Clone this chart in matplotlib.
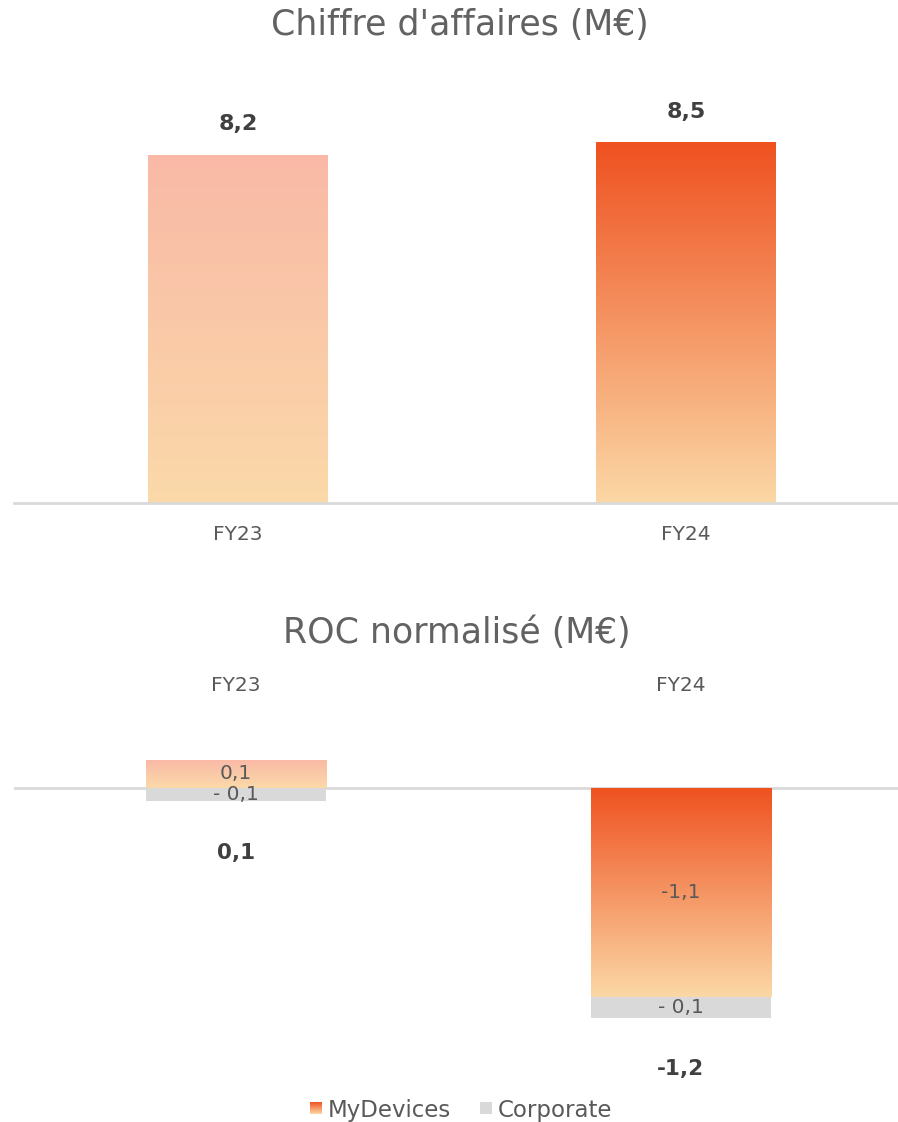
import numpy as np
import matplotlib
matplotlib.use("Agg")
import matplotlib.pyplot as plt
from matplotlib.patches import Rectangle
from matplotlib.legend_handler import HandlerBase
from matplotlib.colors import to_rgb

# ---------------- data ----------------
years = ["FY23", "FY24"]
ca_values = [8.2, 8.5]
ca_labels = ["8,2", "8,5"]

roc_mydevices = [0.15, -1.10]
roc_corporate = [-0.07, -0.11]
roc_mydevices_labels = ["0,1", "-1,1"]
roc_corporate_labels = ["- 0,1", "- 0,1"]
roc_total_labels = ["0,1", "-1,2"]

title_top = "Chiffre d'affaires (M€)"
title_bottom = "ROC normalisé (M€)"
legend_labels = ["MyDevices", "Corporate"]

# ---------------- styles ----------------
FONT = ["DejaVu Sans"]
plt.rcParams["font.family"] = FONT
GREY_TXT = "#595959"
TITLE_TXT = "#626262"
DARK_TXT = "#404040"
LINE = "#D9D9D9"
CORP = "#D9D9D9"
grad_light = ("#F9B9A6", "#FBD9A9")   # FY23 (top, bottom)
grad_strong = ("#EF5120", "#FBD8A6")  # FY24 (top, bottom)
grads = [grad_light, grad_strong]

W, H = 898, 1122
fig = plt.figure(figsize=(W / 100, H / 100), dpi=100)


def gradient_image(top, bottom, n=256):
    t = np.linspace(0, 1, n)[:, None]
    c0 = np.array(to_rgb(top))
    c1 = np.array(to_rgb(bottom))
    img = c0[None, :] * (1 - t) + c1[None, :] * t
    return img[:, None, :]


def gradient_bar(ax, x, height, bottom, width, colors, zorder=2):
    bar = ax.bar(x, height, width=width, bottom=bottom, color="none",
                 edgecolor="none", zorder=zorder)[0]
    x0 = bar.get_x()
    x1 = x0 + bar.get_width()
    y0 = min(bottom, bottom + height)
    y1 = max(bottom, bottom + height)
    im = ax.imshow(gradient_image(*colors), extent=[x0, x1, y0, y1],
                   aspect="auto", origin="upper", zorder=zorder,
                   interpolation="bilinear")
    im.set_clip_path(bar)
    return bar


def px_axes(left, right, top, bottom):
    return fig.add_axes([left / W, 1 - bottom / H, (right - left) / W,
                         (bottom - top) / H])


# ---------------- top chart ----------------
ax1 = px_axes(14, 898, 87, 503)
x = np.arange(len(years))
bw = 0.40
for i, v in enumerate(ca_values):
    gradient_bar(ax1, x[i], v, 0, bw, grads[i])
    ax1.annotate(ca_labels[i], (x[i], v), xytext=(0, 22),
                 textcoords="offset points", ha="center", va="center",
                 fontsize=16, fontweight="bold", color=DARK_TXT)
ax1.axhline(0, color=LINE, lw=2.0, zorder=3, clip_on=False)
ax1.set_xlim(-0.5, 1.473)
ax1.set_ylim(0, 9.8)
ax1.set_xticks(x)
ax1.set_xticklabels(years, fontsize=14.5, color=GREY_TXT)
ax1.tick_params(axis="x", length=0, pad=16)
ax1.set_yticks([])
for s in ax1.spines.values():
    s.set_visible(False)
fig.text(460 / W, 1 - 25 / H, title_top, ha="center", va="center",
         fontsize=25, color=TITLE_TXT)

# ---------------- bottom chart ----------------
ax2 = px_axes(14, 898, 712, 1092)
x2 = np.arange(len(years))
bw2 = 0.405
for i in range(len(years)):
    md = roc_mydevices[i]
    cp = roc_corporate[i]
    gradient_bar(ax2, x2[i], md, 0, bw2, grads[i])
    cp_base = min(0, md)
    ax2.bar(x2[i], cp, width=bw2, bottom=cp_base, color=CORP, zorder=2)
    ax2.text(x2[i], md / 2, roc_mydevices_labels[i], ha="center",
             va="center", fontsize=14.5, color=GREY_TXT, zorder=5)
    ax2.text(x2[i], cp_base + cp / 2, roc_corporate_labels[i], ha="center",
             va="center", fontsize=14.5, color=GREY_TXT, zorder=5)
    low = cp_base + cp
    ax2.annotate(roc_total_labels[i], (x2[i], low), xytext=(0, -37),
                 textcoords="offset points", ha="center", va="center",
                 fontsize=15.5, fontweight="bold", color=DARK_TXT)
ax2.axhline(0, color=LINE, lw=2.0, zorder=1)
ax2.set_xlim(-0.4994, 1.489)
ax2.set_ylim(-1.6, 0.4)
ax2.xaxis.tick_top()
ax2.set_xticks(x2)
ax2.set_xticklabels(years, fontsize=14.5, color=GREY_TXT)
ax2.tick_params(axis="x", length=0, pad=12)
ax2.set_yticks([])
for s in ax2.spines.values():
    s.set_visible(False)
fig.text(457 / W, 1 - 633 / H, title_bottom, ha="center", va="center",
         fontsize=25, color=TITLE_TXT)


# ---------------- legend ----------------
class GradientHandler(HandlerBase):
    def __init__(self, colors, n=12):
        super().__init__()
        self.colors = colors
        self.n = n

    def create_artists(self, legend, orig_handle, xdescent, ydescent,
                       width, height, fontsize, trans):
        size = min(width, height)
        x0 = -xdescent + (width - size) / 2
        y0 = -ydescent + (height - size) / 2
        c0 = np.array(to_rgb(self.colors[0]))
        c1 = np.array(to_rgb(self.colors[1]))
        arts = []
        for k in range(self.n):
            t = (k + 0.5) / self.n
            col = c0 * (1 - t) + c1 * t
            h = size / self.n
            r = Rectangle((x0, y0 + size - (k + 1) * h), size, h * 1.05,
                          facecolor=col, edgecolor="none", transform=trans)
            arts.append(r)
        return arts


class SquareHandler(HandlerBase):
    def create_artists(self, legend, orig_handle, xdescent, ydescent,
                       width, height, fontsize, trans):
        size = min(width, height)
        x0 = -xdescent + (width - size) / 2
        y0 = -ydescent + (height - size) / 2
        return [Rectangle((x0, y0), size, size, facecolor=CORP,
                          edgecolor="none", transform=trans)]


h_md = Rectangle((0, 0), 1, 1)
h_cp = Rectangle((0, 0), 1, 1)
fig.legend([h_md, h_cp], legend_labels,
           handler_map={h_md: GradientHandler(grad_strong),
                        h_cp: SquareHandler()},
           loc="center", bbox_to_anchor=(461 / W, 1 - 1110 / H),
           ncol=2, frameon=False, fontsize=16.5, labelcolor=GREY_TXT,
           handlelength=0.52, handleheight=0.52, handletextpad=0.25,
           columnspacing=1.25)

fig.savefig("out.png", dpi=100)
